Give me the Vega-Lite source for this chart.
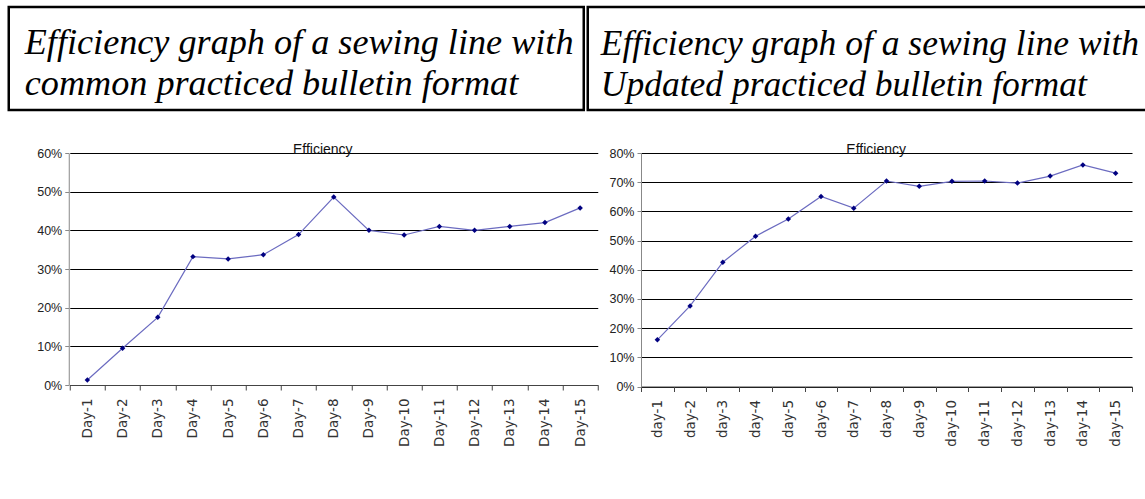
{
  "$schema": "https://vega.github.io/schema/vega-lite/v6.json",
  "padding": {"left": 6.75, "top": 5, "right": 0, "bottom": 0},
  "background": "white",
  "config": {
    "view": {"stroke": null},
    "font": "Liberation Sans"
  },
  "datasets": {
    "common": [
      {"day": "Day-1", "efficiency": 0.013},
      {"day": "Day-2", "efficiency": 0.095},
      {"day": "Day-3", "efficiency": 0.175},
      {"day": "Day-4", "efficiency": 0.332},
      {"day": "Day-5", "efficiency": 0.326},
      {"day": "Day-6", "efficiency": 0.337},
      {"day": "Day-7", "efficiency": 0.389},
      {"day": "Day-8", "efficiency": 0.486},
      {"day": "Day-9", "efficiency": 0.400},
      {"day": "Day-10", "efficiency": 0.388},
      {"day": "Day-11", "efficiency": 0.410},
      {"day": "Day-12", "efficiency": 0.400},
      {"day": "Day-13", "efficiency": 0.410},
      {"day": "Day-14", "efficiency": 0.420},
      {"day": "Day-15", "efficiency": 0.458}
    ],
    "updated": [
      {"day": "day-1", "efficiency": 0.160},
      {"day": "day-2", "efficiency": 0.276},
      {"day": "day-3", "efficiency": 0.426},
      {"day": "day-4", "efficiency": 0.515},
      {"day": "day-5", "efficiency": 0.574},
      {"day": "day-6", "efficiency": 0.651},
      {"day": "day-7", "efficiency": 0.611},
      {"day": "day-8", "efficiency": 0.704},
      {"day": "day-9", "efficiency": 0.686},
      {"day": "day-10", "efficiency": 0.703},
      {"day": "day-11", "efficiency": 0.704},
      {"day": "day-12", "efficiency": 0.697},
      {"day": "day-13", "efficiency": 0.721},
      {"day": "day-14", "efficiency": 0.759},
      {"day": "day-15", "efficiency": 0.731}
    ]
  },
  "columns": 1,
  "concat": [
    {
      "hconcat": [
        {
          "width": 575,
          "height": 103,
          "view": {"stroke": "black", "strokeWidth": 2.5},
          "data": {"values": [{"cell": "common"}]},
          "mark": {"type": "text", "opacity": 0},
          "encoding": {},
          "title": {
            "text": ["Efficiency graph of a sewing line with", "common practiced bulletin format"],
            "orient": "top",
            "anchor": "start",
            "frame": "group",
            "dx": 16,
            "offset": -124,
            "baseline": "alphabetic",
            "font": "Liberation Serif",
            "fontStyle": "italic",
            "fontWeight": "normal",
            "fontSize": 36.2,
            "lineHeight": 41,
            "color": "black"
          }
        },
        {
          "width": 560,
          "height": 103,
          "view": {"stroke": "black", "strokeWidth": 2.5},
          "data": {"values": [{"cell": "updated"}]},
          "mark": {"type": "text", "opacity": 0},
          "encoding": {},
          "title": {
            "text": ["Efficiency graph of a sewing line with", "Updated practiced bulletin format"],
            "orient": "top",
            "anchor": "start",
            "frame": "group",
            "dx": 13,
            "offset": -124,
            "baseline": "alphabetic",
            "font": "Liberation Serif",
            "fontStyle": "italic",
            "fontWeight": "normal",
            "fontSize": 35.5,
            "lineHeight": 41,
            "color": "black"
          }
        }
      ],
      "spacing": 0
    },
    {
      "hconcat": [
        {
          "width": 60,
          "height": 232,
          "data": {"name": "common"},
          "mark": {"type": "point", "opacity": 0},
          "encoding": {
            "y": {
              "field": "efficiency",
              "type": "quantitative",
              "scale": {"domain": [0, 0.6], "nice": false},
              "axis": {
                "title": null,
                "offset": -60,
                "values": [0, 0.1, 0.2, 0.3, 0.4, 0.5, 0.6],
                "format": ".0%",
                "grid": false,
                "domainColor": "#888",
                "tickColor": "#888",
                "tickSize": 4,
                "labelPadding": 3,
                "labelFont": "Liberation Sans Narrow, Liberation Sans",
                "labelFontSize": 12.5,
                "labelColor": "#222"
              }
            }
          }
        },
        {
          "width": 528,
          "height": 232,
          "data": {"name": "common"},
          "encoding": {
            "y": {
              "field": "efficiency",
              "type": "quantitative",
              "scale": {"domain": [0, 0.6], "nice": false},
              "axis": {
                "title": null,
                "values": [0, 0.1, 0.2, 0.3, 0.4, 0.5, 0.6],
                "labels": false,
                "ticks": false,
                "domain": false,
                "grid": true,
                "gridColor": "#000",
                "gridWidth": 1,
                "gridOpacity": 1,
                "minExtent": 0,
                "maxExtent": 0
              }
            }
          },
          "layer": [
            {
              "mark": {"type": "line", "color": "#6b6bc0", "strokeWidth": 1.2},
              "encoding": {
                "x": {
                  "field": "day",
                  "type": "ordinal",
                  "sort": null,
                  "scale": {"type": "band", "paddingInner": 0, "paddingOuter": 0},
                  "axis": {
                    "orient": "bottom",
                    "title": null,
                    "labelAngle": 270,
                    "labelAlign": "right",
                    "labelBaseline": "middle",
                    "labelFont": "DejaVu Sans",
                    "labelFontSize": 13.5,
                    "labelColor": "#333",
                    "labelPadding": 8,
                    "tickBand": "extent",
                    "tickSize": 5,
                    "tickColor": "#444",
                    "domainColor": "#444",
                    "grid": false
                  }
                }
              }
            },
            {
              "mark": {"type": "point", "shape": "diamond", "filled": true, "color": "#000080", "size": 30, "opacity": 1},
              "encoding": {
                "x": {
                  "field": "day",
                  "type": "ordinal",
                  "sort": null,
                  "scale": {"type": "band", "paddingInner": 0, "paddingOuter": 0},
                  "axis": {
                    "orient": "top",
                    "title": "Efficiency",
                    "labels": false,
                    "ticks": false,
                    "domain": false,
                    "grid": false,
                    "titleFont": "Liberation Sans Narrow, Liberation Sans",
                    "titleFontSize": 14,
                    "titleFontWeight": "normal",
                    "titleColor": "#111",
                    "titleBaseline": "alphabetic",
                    "titlePadding": 0,
                    "titleX": 252.5,
                    "titleAlign": "center",
                    "minExtent": 0,
                    "maxExtent": 0
                  }
                }
              }
            }
          ],
          "resolve": {"axis": {"x": "independent"}}
        },
        {
          "width": 491,
          "height": 233.5,
          "data": {"name": "updated"},
          "encoding": {
            "y": {
              "field": "efficiency",
              "type": "quantitative",
              "scale": {"domain": [0, 0.8], "nice": false},
              "axis": {
                "title": null,
                "values": [0, 0.1, 0.2, 0.3, 0.4, 0.5, 0.6, 0.7, 0.8],
                "format": ".0%",
                "grid": true,
                "gridColor": "#000",
                "gridWidth": 1,
                "gridOpacity": 1,
                "domainColor": "#888",
                "tickColor": "#888",
                "tickSize": 4,
                "labelPadding": 3,
                "labelFont": "Liberation Sans Narrow, Liberation Sans",
                "labelFontSize": 12.5,
                "labelColor": "#222",
                "minExtent": 50.5,
                "maxExtent": 50.5
              }
            }
          },
          "layer": [
            {
              "mark": {"type": "line", "color": "#6b6bc0", "strokeWidth": 1.2},
              "encoding": {
                "x": {
                  "field": "day",
                  "type": "ordinal",
                  "sort": null,
                  "scale": {"type": "band", "paddingInner": 0, "paddingOuter": 0},
                  "axis": {
                    "orient": "bottom",
                    "title": null,
                    "labelAngle": 270,
                    "labelAlign": "right",
                    "labelBaseline": "middle",
                    "labelFont": "DejaVu Sans",
                    "labelFontSize": 13.5,
                    "labelColor": "#333",
                    "labelPadding": 8,
                    "tickBand": "extent",
                    "tickSize": 5,
                    "tickColor": "#444",
                    "domainColor": "#444",
                    "grid": false
                  }
                }
              }
            },
            {
              "mark": {"type": "point", "shape": "diamond", "filled": true, "color": "#000080", "size": 30, "opacity": 1},
              "encoding": {
                "x": {
                  "field": "day",
                  "type": "ordinal",
                  "sort": null,
                  "scale": {"type": "band", "paddingInner": 0, "paddingOuter": 0},
                  "axis": {
                    "orient": "top",
                    "title": "Efficiency",
                    "labels": false,
                    "ticks": false,
                    "domain": false,
                    "grid": false,
                    "titleFont": "Liberation Sans Narrow, Liberation Sans",
                    "titleFontSize": 14,
                    "titleFontWeight": "normal",
                    "titleColor": "#111",
                    "titleBaseline": "alphabetic",
                    "titlePadding": 0,
                    "titleX": 234.7,
                    "titleAlign": "center",
                    "minExtent": 0,
                    "maxExtent": 0
                  }
                }
              }
            }
          ],
          "resolve": {"axis": {"x": "independent"}}
        }
      ],
      "spacing": -8.75
    }
  ],
  "spacing": 30
}
